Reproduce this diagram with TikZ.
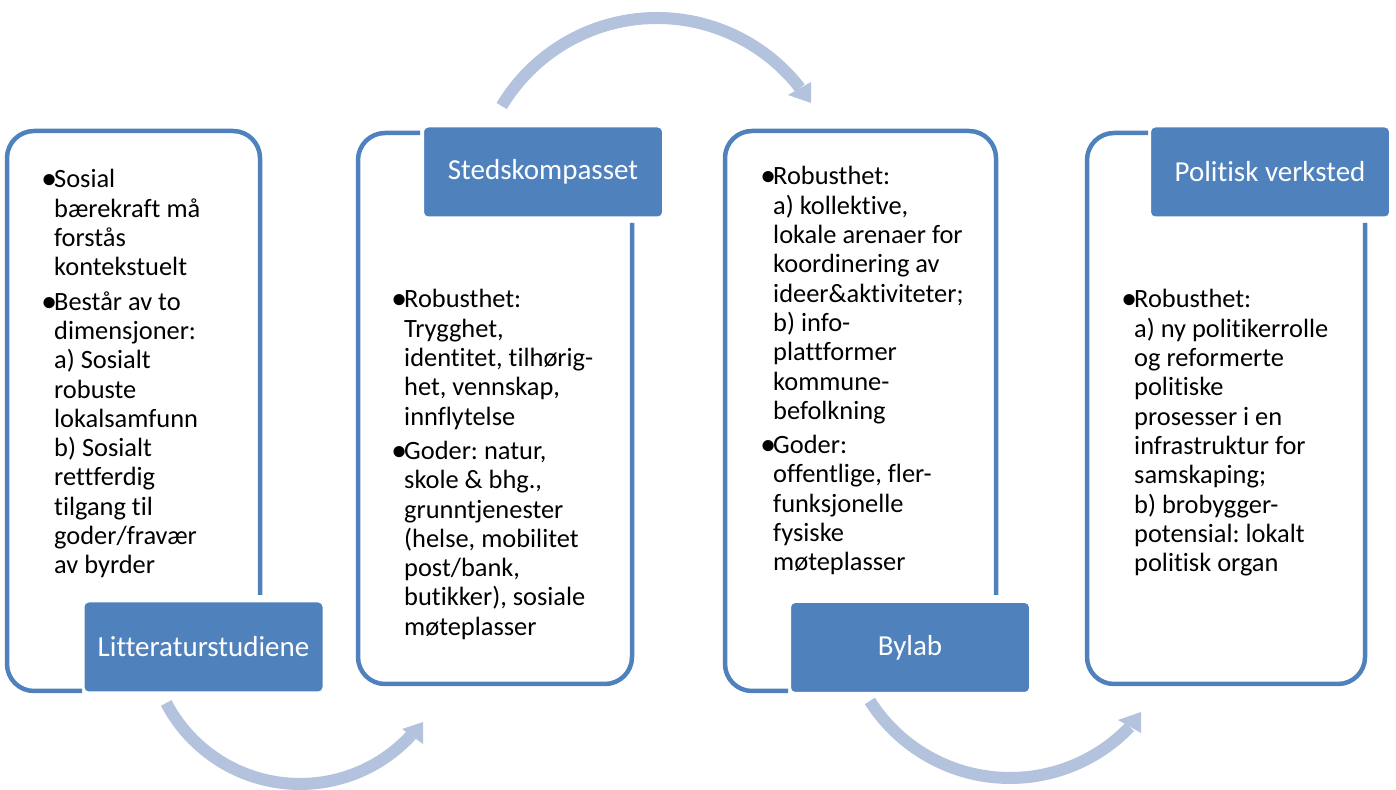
\documentclass[tikz,border=0pt]{standalone}
\usepackage{fontspec}
\setmainfont{Carlito}[Ligatures={NoCommon},RawFeature={-liga;-clig;-calt;-dlig}]
\definecolor{accent}{RGB}{79,129,189}
\definecolor{arrowcol}{RGB}{179,195,222}
\newcommand\bl{\makebox[11pt][l]{\hspace{-0.5pt}\textbf{•}}}
\frenchspacing
\begin{document}
\begin{tikzpicture}[x=1pt,y=1pt,
  outline/.style={draw=accent,line width=4.5pt,rounded corners=27pt},
  labelbox/.style={fill=accent,draw=white,line width=2pt,rounded corners=5pt,
    minimum width=240pt,minimum height=91pt,inner sep=0pt,text=white,
    font=\fontsize{29}{33}\selectfont},
  bodytext/.style={anchor=base west,inner sep=0pt,text=black,
    font=\fontsize{26.4}{29.3}\selectfont},
  arc/.style={draw=arrowcol,line width=12pt},
  head/.style={fill=arrowcol}]
\useasboundingbox (0,0) rectangle (1396,789);
\renewcommand\arraystretch{1}
% curved arrows
\coordinate (c1) at (300,156);
\coordinate (c2) at (657,590);
\coordinate (c3) at (1010,177);
\draw[arc] ([shift={(207.6:151)}]c1) arc[start angle=207.6,end angle=317.5,radius=151];
\fill[head] (423,67) -- (402,60) -- (423,45) -- cycle;
\draw[arc] ([shift={(149.1:181)}]c2) arc[start angle=149.1,end angle=37.8,radius=181];
\fill[head] (811,686) -- (788,694) -- (811,707) -- cycle;
\draw[arc] ([shift={(212.4:166)}]c3) arc[start angle=212.4,end angle=316.2,radius=166];
\fill[head] (1141,77) -- (1118,69) -- (1141,56) -- cycle;
% outline boxes
\draw[outline] (260,194) -- (260,658) -- (7,658) -- (7,98) -- (82,98);
\draw[outline] (632,566) -- (632,105) -- (358,105) -- (358,656) -- (420,656);
\draw[outline] (996,194) -- (996,658) -- (725,658) -- (725,98) -- (788,98);
\draw[outline] (1365,566) -- (1365,105) -- (1087,105) -- (1087,656) -- (1148,656);
% label boxes
\node[labelbox] (l1) at (203.5,142) {Litteraturstudiene};
\node[labelbox] (l2) at (543,617) {Stedskompasset};
\node[labelbox] (l3) at (910,141.5) {Bylab};
\node[labelbox] (l4) at (1270,617) {Politisk verksted};
% body texts
\node[bodytext] (t1) at (43,601) {\begin{tabular}[t]{@{}l@{}l@{}}
\bl & Sosial\\
 & bærekraft må\\
 & forstås\\
 & kontekstuelt\\[5pt]
\bl & Består av to\\
 & dimensjoner:\\
 & a) Sosialt\\
 & robuste\\
 & lokalsamfunn\\
 & b) Sosialt\\
 & rettferdig\\
 & tilgang til\\
 & goder/fravær\\
 & av byrder
\end{tabular}};
\node[bodytext] (t2) at (393,481) {\begin{tabular}[t]{@{}l@{}l@{}}
\bl & Robusthet:\\
 & Trygghet,\\
 & identitet, tilhørig-\\
 & het, vennskap,\\
 & innflytelse\\[5pt]
\bl & Goder: natur,\\
 & skole \& bhg.,\\
 & grunntjenester\\
 & (helse, mobilitet\\
 & post/bank,\\
 & butikker), sosiale\\
 & møteplasser
\end{tabular}};
\node[bodytext] (t3) at (762,604) {\begin{tabular}[t]{@{}l@{}l@{}}
\bl & Robusthet:\\
 & a) kollektive,\\
 & lokale arenaer for\\
 & koordinering av\\
 & ideer\&aktiviteter;\\
 & b) info-\\
 & plattformer\\
 & kommune-\\
 & befolkning\\[5pt]
\bl & Goder:\\
 & offentlige, fler-\\
 & funksjonelle\\
 & fysiske\\
 & møteplasser
\end{tabular}};
\node[bodytext] (t4) at (1123,481) {\begin{tabular}[t]{@{}l@{}l@{}}
\bl & Robusthet:\\
 & a) ny politikerrolle\\
 & og reformerte\\
 & politiske\\
 & prosesser i en\\
 & infrastruktur for\\
 & samskaping;\\
 & b) brobygger-\\
 & potensial: lokalt\\
 & politisk organ
\end{tabular}};
\end{tikzpicture}
\end{document}
